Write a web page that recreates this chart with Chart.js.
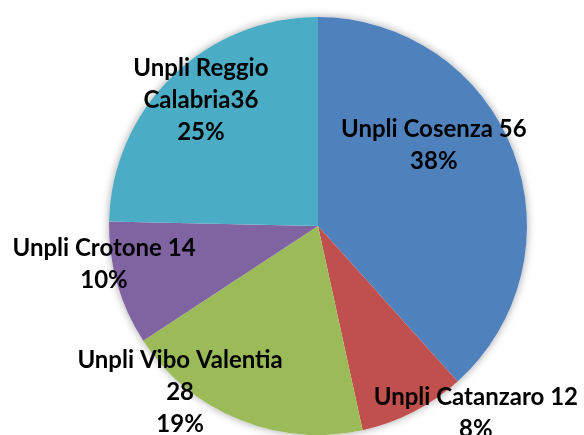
<!DOCTYPE html>
<html>
<head>
<meta charset="utf-8">
<script src="https://cdn.jsdelivr.net/npm/chart.js@4"></script>
<style>
  html, body { margin: 0; padding: 0; background: #fff; }
  #wrap { width: 584px; height: 435px; }
</style>
</head>
<body>
<div id="wrap"><canvas id="myChart" width="584" height="435"></canvas></div>
<script>
// chart data
const categories = ['Unpli Cosenza', 'Unpli Catanzaro', 'Unpli Vibo Valentia', 'Unpli Crotone', 'Unpli Reggio Calabria'];
const values = [56, 12, 28, 14, 36];
const colors = ['#4F81BD', '#C0504D', '#9BBB59', '#8064A2', '#4BACC6'];

// label text lines, as Excel wrapped them
const labelLines = [
    ['Unpli Cosenza 56', '38%'],
    ['Unpli Catanzaro 12', '8%'],
    ['Unpli Vibo Valentia', '28', '19%'],
    ['Unpli Crotone 14', '10%'],
    ['Unpli Reggio', 'Calabria36', '25%']
];
// where each label sits: [fraction of radius, angle in degrees clockwise from top]
const labelSpots = [[0.679, 54.7], [1.168, 139.7], [1.029, 219.9], [1.039, 260.2], [0.826, 317.3]];

// soft shadow under the pie
const pieShadow = {
    id: 'pieShadow',
    beforeDatasetsDraw(chart) {
        const arc = chart.getDatasetMeta(0).data[0];
        const ctx = chart.ctx;
        ctx.save();
        ctx.shadowColor = 'rgba(0,0,0,0.35)';
        ctx.shadowBlur = 8;
        ctx.fillStyle = '#fff';
        ctx.beginPath();
        ctx.arc(arc.x, arc.y, arc.outerRadius, 0, Math.PI * 2);
        ctx.fill();
        ctx.restore();
    }
};

// data labels
const sliceLabels = {
    id: 'sliceLabels',
    afterDatasetsDraw(chart) {
        const ctx = chart.ctx;
        const arcs = chart.getDatasetMeta(0).data;
        ctx.save();
        ctx.font = 'bold 24px Lato, "Liberation Sans", sans-serif';
        ctx.fillStyle = '#000';
        ctx.textAlign = 'center';
        ctx.textBaseline = 'middle';
        arcs.forEach((arc, i) => {
            const spot = labelSpots[i];
            const a = spot[1] * Math.PI / 180;
            const r = arc.outerRadius * spot[0];
            const cx = arc.x + r * Math.sin(a);
            const cy = arc.y - r * Math.cos(a) + 1;
            const lines = labelLines[i];
            const lh = 32;
            lines.forEach((t, j) => {
                ctx.fillText(t, cx, cy + (j - (lines.length - 1) / 2) * lh);
            });
        });
        ctx.restore();
    }
};

const ctx = document.getElementById('myChart').getContext('2d');
window.myChart = new Chart(ctx, {
    type: 'pie',
    data: {
        labels: categories,
        datasets: [{
            data: values,
            backgroundColor: colors,
            borderWidth: 0
        }]
    },
    options: {
        responsive: false,
        animation: false,
        layout: { padding: { left: 109, right: 57, top: 17, bottom: 0 } },
        plugins: {
            legend: { display: false },
            tooltip: { enabled: false }
        }
    },
    plugins: [pieShadow, sliceLabels]
});
</script>
</body>
</html>
